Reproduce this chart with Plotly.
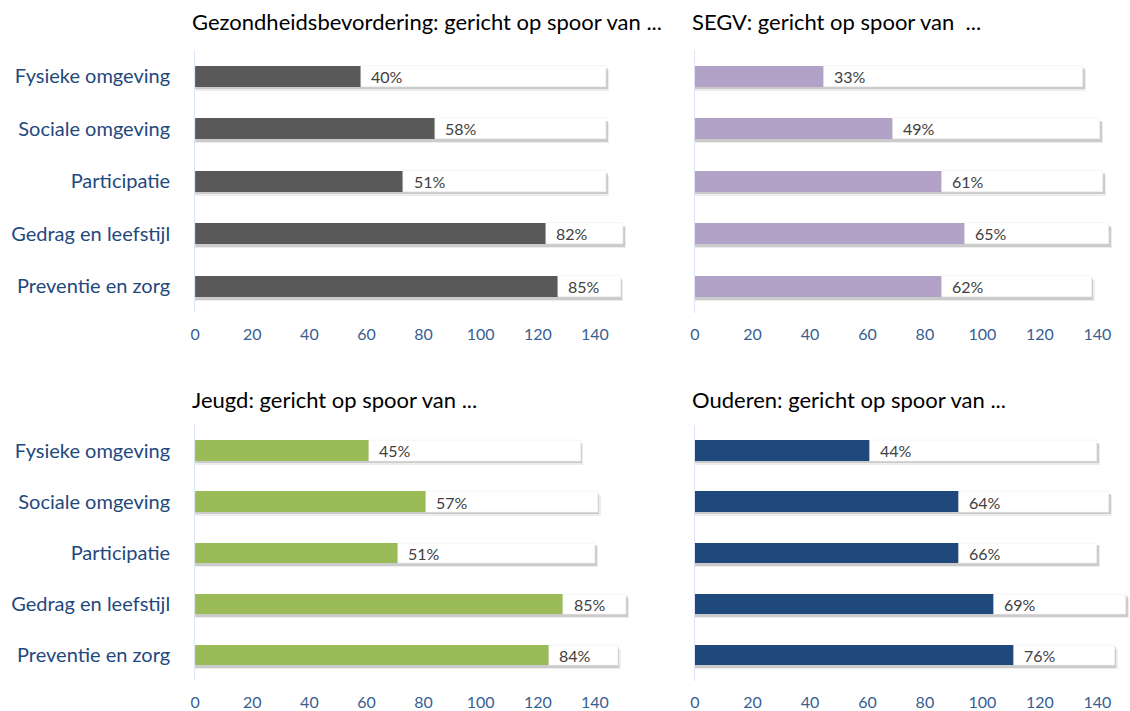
import plotly.graph_objects as go

# ---------------- data ----------------
categories = ["Fysieke omgeving", "Sociale omgeving", "Participatie",
              "Gedrag en leefstijl", "Preventie en zorg"]

titles = ["Gezondheidsbevordering: gericht op spoor van ...",
          "SEGV: gericht op spoor van  ...",
          "Jeugd: gericht op spoor van ...",
          "Ouderen: gericht op spoor van ..."]

gb_counts = [58, 84, 73, 123, 127]
gb_totals = [144, 144, 144, 150, 149]
gb_pct = ["40%", "58%", "51%", "82%", "85%"]

segv_counts = [45, 69, 86, 94, 86]
segv_totals = [135, 141, 142, 144, 138]
segv_pct = ["33%", "49%", "61%", "65%", "62%"]

jeugd_counts = [61, 81, 71, 129, 124]
jeugd_totals = [135, 141, 140, 151, 148]
jeugd_pct = ["45%", "57%", "51%", "85%", "84%"]

oud_counts = [61, 92, 92, 104, 111]
oud_totals = [140, 144, 140, 150, 146]
oud_pct = ["44%", "64%", "66%", "69%", "76%"]

tick_values = [0, 20, 40, 60, 80, 100, 120, 140]

colors = ["#595959", "#B3A2C7", "#9BBB59", "#1F497D"]

# ---------------- layout geometry ----------------
W, H = 1130, 711
FONT = "Lato"

def px_x(p):
    return p / W

def px_y(p):
    return 1 - p / H

panels = [
    # (counts, totals, pct, xdomain px, ydomain px (top,bottom), xmax, show y labels)
    (gb_counts, gb_totals, gb_pct, (191, 627), (50, 313), 152, True),
    (segv_counts, segv_totals, segv_pct, (693, 1129), (50, 313), 151, False),
    (jeugd_counts, jeugd_totals, jeugd_pct, (191, 627), (426, 682), 152, True),
    (oud_counts, oud_totals, oud_pct, (693, 1129), (426, 682), 151, False),
]
title_y = [22, 22, 400, 400]

fig = go.Figure()
annotations = []
BW = 0.4

for i, (counts, totals, pct, xd, yd, xmax, showy) in enumerate(panels):
    n = "" if i == 0 else str(i + 1)
    xa, ya = "x" + n, "y" + n
    rest = [t - c for t, c in zip(totals, counts)]

    # soft shadow layers
    for dx, dy, op in [(1.0, 0.075, 0.07), (0.6, 0.05, 0.14)]:
        fig.add_trace(go.Bar(
            y=categories, x=[t + dx for t in totals], base=[0] * len(totals),
            orientation="h", width=BW, offset=-BW / 2 + dy,
            marker=dict(color=f"rgba(0,0,0,{op})", line=dict(width=0)),
            xaxis=xa, yaxis=ya, showlegend=False, hoverinfo="skip"))
    # colored part
    fig.add_trace(go.Bar(
        y=categories, x=counts, orientation="h", width=BW, offset=-BW / 2,
        marker=dict(color=colors[i], line=dict(width=0)),
        xaxis=xa, yaxis=ya, showlegend=False))
    # white remainder
    fig.add_trace(go.Bar(
        y=categories, x=rest, base=counts, orientation="h", width=BW,
        offset=-BW / 2,
        marker=dict(color="white", line=dict(width=0.6, color="#EEEEEE")),
        xaxis=xa, yaxis=ya, showlegend=False))

    for c, cat, p in zip(counts, categories, pct):
        annotations.append(dict(
            x=c, y=cat, xref=xa, yref=ya, text=p, showarrow=False,
            xanchor="left", yanchor="middle", xshift=8,
            font=dict(family=FONT, size=16, color="#404040")))

    annotations.append(dict(
        x=px_x(xd[0]), y=px_y(title_y[i]), xref="paper", yref="paper",
        text=titles[i], showarrow=False, xanchor="left", yanchor="middle",
        xshift=-5,
        font=dict(family=FONT, size=22, color="#000000")))

    fig.layout["xaxis" + n] = dict(
        domain=[px_x(xd[0]), px_x(xd[1])], anchor=ya, range=[0, xmax],
        tickvals=tick_values, showgrid=False, zeroline=False, showline=False,
        ticks="", ticklabelstandoff=10,
        tickfont=dict(family=FONT, size=16, color="#376092"))
    fig.layout["yaxis" + n] = dict(
        domain=[px_y(yd[1]), px_y(yd[0])], anchor=xa,
        categoryorder="array", categoryarray=categories,
        autorange="reversed", showgrid=False, zeroline=False,
        showline=True, linecolor="#DCE6F2", linewidth=1,
        showticklabels=showy, ticks="", ticklabelstandoff=20,
        tickfont=dict(family=FONT, size=20, color="#1F497D"))

fig.update_layout(
    width=W, height=H, margin=dict(l=0, r=0, t=0, b=0),
    paper_bgcolor="white", plot_bgcolor="white",
    barmode="overlay", bargap=0, annotations=annotations,
    showlegend=False)

fig.write_html("out.html",
               config={"displayModeBar": False},
               post_script="document.body.style.margin='0';"
                           "document.body.style.overflow='hidden';")
